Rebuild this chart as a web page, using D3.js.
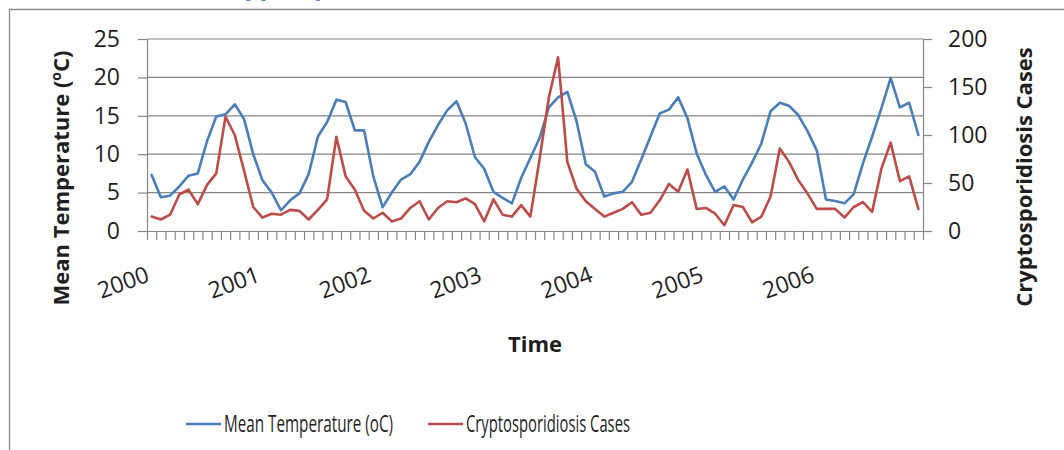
<!DOCTYPE html>
<html>
<head>
<meta charset="utf-8">
<script src="https://cdn.jsdelivr.net/npm/d3@7"></script>
<style>
  body { margin: 0; background: #fff; }
  svg { display: block; font-family: "Open Sans", sans-serif; }
</style>
</head>
<body>
<svg id="chart" width="1064" height="450"></svg>
<script>
// Monthly series, January 2000 – December 2006
const years = ["2000", "2001", "2002", "2003", "2004", "2005", "2006"];
const monthNames = ["Jan", "Feb", "Mar", "Apr", "May", "Jun", "Jul", "Aug", "Sep", "Oct", "Nov", "Dec"];

// Mean temperature (°C), left axis
const temperature = [
  7.3, 4.4, 4.6, 5.8, 7.2, 7.5, 11.7, 14.9, 15.2, 16.5, 14.6, 10.0,
  6.6, 5.0, 2.7, 4.0, 4.9, 7.4, 12.3, 14.2, 17.1, 16.8, 13.1, 13.1,
  7.1, 3.1, 5.0, 6.7, 7.4, 9.0, 11.6, 13.8, 15.7, 16.9, 14.0, 9.6,
  8.1, 5.1, 4.3, 3.6, 6.9, 9.5, 12.1, 16.1, 17.4, 18.1, 14.3, 8.7,
  7.7, 4.5, 4.9, 5.1, 6.4, 9.3, 12.3, 15.3, 15.8, 17.4, 14.7, 10.1,
  7.3, 5.1, 5.8, 4.1, 6.7, 8.9, 11.4, 15.6, 16.7, 16.3, 15.1, 13.0,
  10.5, 4.1, 3.9, 3.6, 4.8, 8.8, 12.3, 16.0, 19.9, 16.1, 16.7, 12.5
];

// Cryptosporidiosis cases per month, right axis
const cases = [
  15, 12, 17, 38, 43, 28, 48, 60, 119, 100, 63, 25,
  14, 18, 17, 22, 21, 12, 22, 33, 98, 57, 43, 21,
  13, 19, 10, 13, 24, 31, 12, 24, 31, 30, 34, 28,
  10, 33, 17, 15, 27, 15, 75, 139, 181, 72, 44, 31,
  23, 15, 19, 23, 30, 17, 19, 32, 49, 41, 64, 23,
  24, 18, 6, 27, 25, 9, 15, 36, 86, 72, 53, 39,
  23, 23, 23, 14, 25, 30, 20, 65, 92, 52, 57, 23
];

const tempTicks = [0, 5, 10, 15, 20, 25];
const caseTicks = [0, 50, 100, 150, 200];

const categories = years.flatMap(y => monthNames.map(m => `${m} ${y}`));

const colors = { temp: "#4a7ebb", cases: "#be4b48", axis: "#868686", text: "#1f1f1f" };

const svg = d3.select("#chart");
const plot = { left: 147, right: 923, top: 39, bottom: 231 };

const x = d3.scaleBand().domain(categories).range([plot.left, plot.right]);
const xEdge = d3.scaleLinear().domain([0, categories.length]).range([plot.left, plot.right]);
const yT = d3.scaleLinear().domain([0, 25]).range([plot.bottom, plot.top]);
const yC = d3.scaleLinear().domain([0, 200]).range([plot.bottom, plot.top]);
const cx = i => x(categories[i]) + x.bandwidth() / 2;

// Outer frame edges (left and top)
svg.append("path")
  .attr("d", "M9.5,450 V9.5 H1064")
  .attr("fill", "none").attr("stroke", "#8c8c8c").attr("stroke-width", 1.3);

// Heading text running above the frame
svg.append("text")
  .attr("x", 218).attr("y", -5.5)
  .attr("font-size", 25).attr("font-weight", 700)
  .attr("fill", "#4f81bd")
  .text("Cryptosporidiosis");

// Horizontal gridlines
svg.append("g").selectAll("line").data(tempTicks.filter(t => t > 0)).join("line")
  .attr("x1", plot.left).attr("x2", plot.right)
  .attr("y1", d => yT(d)).attr("y2", d => yT(d))
  .attr("stroke", colors.axis).attr("stroke-width", 1.2);

function styleAxis(g) {
  g.selectAll("path, line").attr("stroke", colors.axis).attr("stroke-width", 1.2);
  g.selectAll("text").attr("fill", colors.text).attr("font-size", 23)
    .attr("font-family", '"Open Sans", sans-serif');
}

// Left axis
svg.append("g")
  .attr("transform", `translate(${plot.left},0)`)
  .call(d3.axisLeft(yT).tickValues(tempTicks).tickSize(9).tickSizeOuter(0).tickPadding(18))
  .call(styleAxis);

// Right axis
svg.append("g")
  .attr("transform", `translate(${plot.right},0)`)
  .call(d3.axisRight(yC).tickValues(caseTicks).tickSize(9).tickSizeOuter(0).tickPadding(16))
  .call(styleAxis);

// Bottom axis: a tick at every month boundary
svg.append("g")
  .attr("transform", `translate(0,${plot.bottom})`)
  .call(d3.axisBottom(xEdge).tickValues(d3.range(categories.length + 1)).tickSize(9).tickSizeOuter(0).tickFormat(""))
  .call(styleAxis);

// Year labels on the first month of each year
svg.append("g").selectAll("text").data(years).join("text")
  .attr("transform", (d, k) => `translate(${cx(k * 12) - 1},${281}) rotate(-20)`)
  .attr("text-anchor", "end")
  .attr("font-size", 23).attr("fill", colors.text)
  .text(d => d);

// Axis titles
svg.append("text")
  .attr("transform", `translate(69,178) rotate(-90)`)
  .attr("text-anchor", "middle").attr("font-size", 22).attr("font-weight", 700)
  .attr("fill", colors.text)
  .call(t => {
    t.append("tspan").text("Mean Temperature (");
    t.append("tspan").attr("font-size", 14).attr("dy", -8).text("o");
    t.append("tspan").attr("dy", 8).text("C)");
  });

svg.append("text")
  .attr("transform", `translate(1032,177) rotate(-90)`)
  .attr("text-anchor", "middle").attr("font-size", 22).attr("font-weight", 700)
  .attr("fill", colors.text)
  .text("Cryptosporidiosis Cases");

svg.append("text")
  .attr("x", (plot.left + plot.right) / 2).attr("y", 352)
  .attr("text-anchor", "middle").attr("font-size", 22).attr("font-weight", 700)
  .attr("fill", colors.text)
  .text("Time");

// Series lines
const lineT = d3.line().x((d, i) => cx(i)).y(d => yT(d));
const lineC = d3.line().x((d, i) => cx(i)).y(d => yC(d));

svg.append("path").datum(temperature)
  .attr("d", lineT).attr("fill", "none")
  .attr("stroke", colors.temp).attr("stroke-width", 2.6)
  .attr("stroke-linejoin", "round").attr("stroke-linecap", "round");

svg.append("path").datum(cases)
  .attr("d", lineC).attr("fill", "none")
  .attr("stroke", colors.cases).attr("stroke-width", 2.6)
  .attr("stroke-linejoin", "round").attr("stroke-linecap", "round");

// Legend
const legendItems = [
  { label: "Mean Temperature (oC)", color: colors.temp, x: 186, width: 169 },
  { label: "Cryptosporidiosis Cases", color: colors.cases, x: 428, width: 164 }
];
const legend = svg.append("g").selectAll("g").data(legendItems).join("g")
  .attr("transform", d => `translate(${d.x},424)`);
legend.append("line")
  .attr("x1", 0).attr("x2", 35).attr("y1", 0).attr("y2", 0)
  .attr("stroke", d => d.color).attr("stroke-width", 2.6);
legend.append("text")
  .attr("x", 38).attr("y", 0).attr("dy", "0.35em")
  .attr("font-size", 23).attr("fill", colors.text)
  .attr("textLength", d => d.width).attr("lengthAdjust", "spacingAndGlyphs")
  .text(d => d.label);
</script>
</body>
</html>
